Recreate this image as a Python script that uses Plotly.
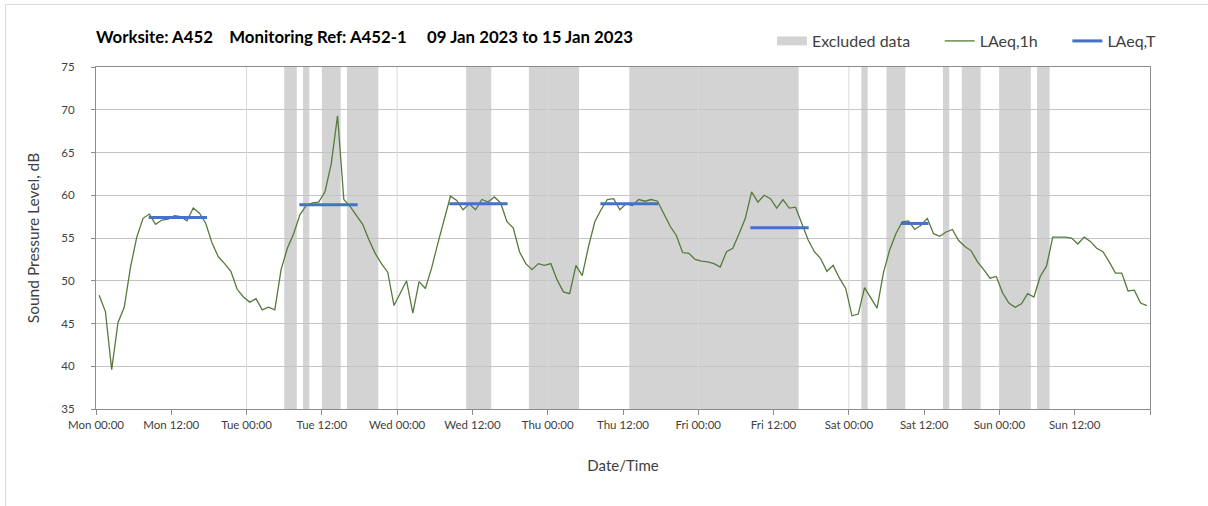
import plotly.graph_objects as go

# Hourly LAeq,1h values (dB), Mon 09 Jan 2023 00:00 onwards, one per hour
laeq_1h = [
    48.3, 46.4, 39.6, 45.1, 46.9, 51.6, 55.1, 57.3, 57.8, 56.6, 57.1, 57.2,
    57.6, 57.5, 57.0, 58.5, 57.9, 56.7, 54.4, 52.8, 52.0, 51.1, 49.0, 48.1,
    47.5, 47.9, 46.6, 46.9, 46.6, 51.3, 53.8, 55.5, 57.7, 58.8, 59.1, 59.2,
    60.4, 63.7, 69.3, 59.5, 58.7, 57.7, 56.6, 54.8, 53.2, 52.0, 51.0, 47.1,
    48.5, 50.0, 46.2, 49.9, 49.1, 51.5, 54.4, 57.2, 59.9, 59.4, 58.3, 59.0,
    58.3, 59.5, 59.2, 59.8, 59.1, 56.9, 56.2, 53.4, 52.0, 51.3, 52.0, 51.8,
    52.0, 50.1, 48.7, 48.5, 51.8, 50.6, 54.0, 56.9, 58.3, 59.5, 59.6, 58.3,
    59.0, 58.8, 59.5, 59.3, 59.5, 59.3, 57.9, 56.4, 55.3, 53.3, 53.2, 52.5,
    52.3, 52.2, 52.0, 51.6, 53.4, 53.8, 55.5, 57.3, 60.4, 59.2, 60.0, 59.6,
    58.5, 59.5, 58.5, 58.6, 56.7, 54.8, 53.4, 52.6, 51.1, 51.8, 50.3, 49.1,
    45.9, 46.1, 49.2, 48.0, 46.8, 50.9, 53.6, 55.5, 56.9, 57.0, 56.0, 56.5,
    57.3, 55.5, 55.2, 55.7, 56.0, 54.7, 54.0, 53.5, 52.2, 51.3, 50.3, 50.5,
    48.6, 47.4, 46.9, 47.3, 48.5, 48.1, 50.5, 51.7, 55.1, 55.1, 55.1, 55.0,
    54.3, 55.1, 54.6, 53.8, 53.4, 52.2, 50.9, 50.9, 48.8, 48.9, 47.4, 47.1,
]
# Each hourly value is plotted at the middle of its hour
hours = [i + 0.5 for i in range(len(laeq_1h))]

# LAeq,T over each daytime monitoring period (hours from Mon 00:00)
laeq_t_start = [8.4, 32.4, 56.3, 80.4, 104.3, 128.3]
laeq_t_end = [17.7, 41.7, 65.6, 89.6, 113.6, 132.7]
laeq_t_value = [57.4, 58.9, 59.0, 59.0, 56.2, 56.7]

# Excluded data periods (hours from Mon 00:00)
excl_start = [30, 33, 36, 40, 59, 69, 85, 122, 126, 135, 138, 144, 150]
excl_end = [32, 34, 39, 45, 63, 77, 112, 123, 129, 136, 141, 149, 152]

# Axis ticks every 12 hours across the week
tick_hours = list(range(0, 169, 12))
tick_labels = [
    "Mon 00:00", "Mon 12:00", "Tue 00:00", "Tue 12:00", "Wed 00:00",
    "Wed 12:00", "Thu 00:00", "Thu 12:00", "Fri 00:00", "Fri 12:00",
    "Sat 00:00", "Sat 12:00", "Sun 00:00", "Sun 12:00", "",
]
day_hours = list(range(24, 168, 24))

FONT = "Lato"
TEXT = "#404040"
NB = "\u00a0"

fig = go.Figure()

# Legend entry for the excluded-data bands (bands themselves are shapes)
fig.add_trace(go.Scatter(
    x=[None], y=[None], mode="lines", name="Excluded data" + NB * 6,
    line=dict(color="#d3d3d3", width=9),
))

fig.add_trace(go.Scatter(
    x=hours, y=laeq_1h, mode="lines", name="LAeq,1h" + NB * 6,
    line=dict(color="#557a3c", width=1.3),
))

t_x, t_y = [], []
for s, e, v in zip(laeq_t_start, laeq_t_end, laeq_t_value):
    t_x += [s, e, None]
    t_y += [v, v, None]
fig.add_trace(go.Scatter(
    x=t_x, y=t_y, mode="lines", name="LAeq,T",
    line=dict(color="#4472c4", width=3),
))

shapes = []
for s, e in zip(excl_start, excl_end):
    shapes.append(dict(
        type="rect", xref="x", yref="y", x0=s, x1=e, y0=35, y1=75,
        fillcolor="#d3d3d3", line=dict(width=0), layer="below",
    ))
# Lighter vertical grid at each midnight
for d in day_hours:
    shapes.append(dict(
        type="line", xref="x", yref="y", x0=d, x1=d, y0=35, y1=75,
        line=dict(color="#d9d9d9", width=1), layer="between",
    ))
# Thin frame round the chart
shapes.append(dict(
    type="rect", xref="paper", yref="paper",
    x0=-0.0858, x1=1.2, y0=-0.4, y1=1.183,
    line=dict(color="#d9d9d9", width=1), fillcolor="rgba(0,0,0,0)",
))

fig.update_layout(
    width=1208, height=506,
    margin=dict(l=96, r=58, t=67, b=97, autoexpand=False),
    paper_bgcolor="white", plot_bgcolor="white",
    font=dict(family=FONT, color=TEXT, size=12),
    shapes=shapes,
    title=dict(
        text="<b>Worksite: A452" + NB * 4 + "Monitoring Ref: A452-1"
             + NB * 5 + "09 Jan 2023 to 15 Jan 2023</b>",
        font=dict(family=FONT, size=16.8, color="#000000"),
        xref="paper", x=0, xanchor="left",
        yref="container", y=1 - 37 / 506, yanchor="middle",
    ),
    legend=dict(
        orientation="h", x=1 - 46 / 1208, xref="container", xanchor="right",
        y=1 - 41 / 506, yref="container", yanchor="middle",
        font=dict(family=FONT, size=16, color=TEXT),
        bgcolor="rgba(0,0,0,0)",
    ),
    showlegend=True,
)

fig.update_xaxes(
    range=[0, 168], tickmode="array", tickvals=tick_hours, ticktext=tick_labels,
    showgrid=False, zeroline=False,
    showline=True, linecolor="#8c8c8c", linewidth=1, mirror=True,
    ticks="outside", ticklen=5, tickcolor="#8c8c8c",
    tickfont=dict(family=FONT, size=11.5, color=TEXT),
    title=dict(text="Date/Time", font=dict(family=FONT, size=15, color=TEXT),
               standoff=30),
)
fig.update_yaxes(
    range=[35, 75], tickmode="linear", tick0=35, dtick=5,
    showgrid=True, gridcolor="#c4c4c4", gridwidth=1, zeroline=False,
    showline=True, linecolor="#8c8c8c", linewidth=1, mirror=True,
    ticks="outside", ticklen=4, tickcolor="#8c8c8c",
    ticklabelstandoff=14,
    tickfont=dict(family=FONT, size=11.5, color=TEXT),
    title=dict(text="Sound Pressure Level, dB",
               font=dict(family=FONT, size=15.5, color=TEXT), standoff=17),
)

fig.write_html("out.html")
